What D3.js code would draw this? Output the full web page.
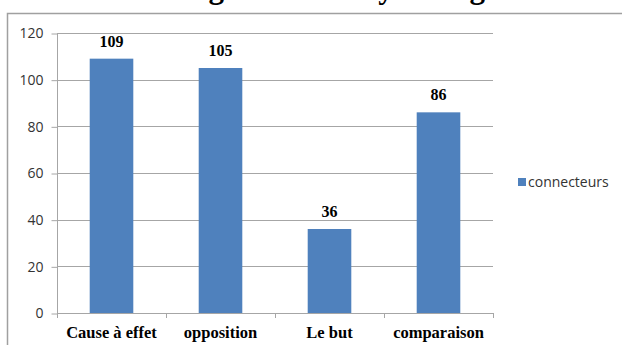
<!DOCTYPE html>
<html>
<head>
<meta charset="utf-8">
<script src="https://cdn.jsdelivr.net/npm/d3@7"></script>
<style>
  body { margin: 0; background: #fff; }
  svg { display: block; }
</style>
</head>
<body>
<div id="chart"></div>
<script>
// data
var categories = ["Cause à effet", "opposition", "Le but", "comparaison"];
var values = [109, 105, 36, 86];
var yTicks = [0, 20, 40, 60, 80, 100, 120];
var seriesName = "connecteurs";
var titleText = "Les catégories d'analyse du genre";

var W = 622, H = 345;
var svg = d3.select("#chart").append("svg")
  .attr("width", W)
  .attr("height", H);

// title, cut off by the top of the picture (as in the original)
svg.append("text")
  .attr("x", 322)
  .attr("y", -2)
  .attr("text-anchor", "middle")
  .style("font-family", "'Liberation Serif', serif")
  .style("font-weight", "bold")
  .style("font-size", "31px")
  .text(titleText);

// chart frame
svg.append("path")
  .attr("d", "M7.5," + H + "V13.5H" + W)
  .attr("fill", "none")
  .attr("stroke", "#a0a0a0")
  .attr("stroke-width", 1.5);

var x = d3.scaleBand()
  .domain(categories)
  .range([57, 493])
  .paddingInner(0.6)
  .paddingOuter(0.3);

var y = d3.scaleLinear()
  .domain([0, 120])
  .range([313, 33]);

// gridlines
svg.append("g")
  .selectAll("line")
  .data(yTicks.filter(d => d > 0))
  .enter()
  .append("line")
    .attr("x1", 57)
    .attr("x2", 493)
    .attr("y1", d => Math.round(y(d)) + 0.5)
    .attr("y2", d => Math.round(y(d)) + 0.5)
    .attr("stroke", "#a6a6a6");

// y axis
var yAxis = svg.append("g")
  .attr("transform", "translate(57.5,0.5)")
  .call(d3.axisLeft(y).tickValues(yTicks).tickSize(6).tickPadding(8));
yAxis.select(".domain").attr("stroke", "#a6a6a6").attr("d", "M-0,33V313");
yAxis.selectAll(".tick line").attr("stroke", "#a6a6a6");
yAxis.selectAll(".tick text")
  .style("font-family", "'Open Sans', sans-serif")
  .style("font-size", "14px")
  .attr("fill", "#333");

// bars
svg.append("g")
  .selectAll("rect")
  .data(values)
  .enter()
  .append("rect")
    .attr("x", (d, i) => x(categories[i]))
    .attr("y", d => y(d))
    .attr("width", x.bandwidth())
    .attr("height", d => y(0) - y(d))
    .attr("fill", "#4f81bd");

// value labels
svg.append("g")
  .selectAll("text")
  .data(values)
  .enter()
  .append("text")
    .attr("x", (d, i) => x(categories[i]) + x.bandwidth() / 2)
    .attr("y", d => y(d) - 12)
    .attr("text-anchor", "middle")
    .style("font-family", "'Liberation Serif', serif")
    .style("font-weight", "bold")
    .style("font-size", "16px")
    .text(d => d);

// x axis
var xAxis = svg.append("g")
  .attr("transform", "translate(0," + (y(0) + 0.5) + ")")
  .call(d3.axisBottom(x).tickSize(0).tickPadding(13));
xAxis.select(".domain").attr("stroke", "#a6a6a6").attr("d", "M57,0H493");
xAxis.selectAll(".tick text")
  .style("font-family", "'Liberation Serif', serif")
  .style("font-weight", "bold")
  .style("font-size", "16.5px")
  .attr("fill", "#000");

// category separators under the x axis
var step = x.step();
svg.append("g")
  .selectAll("line")
  .data(d3.range(categories.length + 1))
  .enter()
  .append("line")
    .attr("x1", i => Math.round(57 + i * step) + 0.5)
    .attr("x2", i => Math.round(57 + i * step) + 0.5)
    .attr("y1", y(0))
    .attr("y2", y(0) + 5)
    .attr("stroke", "#a6a6a6");

// legend
var legend = svg.append("g").attr("transform", "translate(518,178)");
legend.append("rect")
  .attr("width", 8)
  .attr("height", 8)
  .attr("fill", "#4f81bd");
legend.append("text")
  .attr("x", 10)
  .attr("y", 8.5)
  .style("font-family", "'Open Sans', sans-serif")
  .style("font-size", "14px")
  .attr("fill", "#333")
  .text(seriesName);
</script>
</body>
</html>
